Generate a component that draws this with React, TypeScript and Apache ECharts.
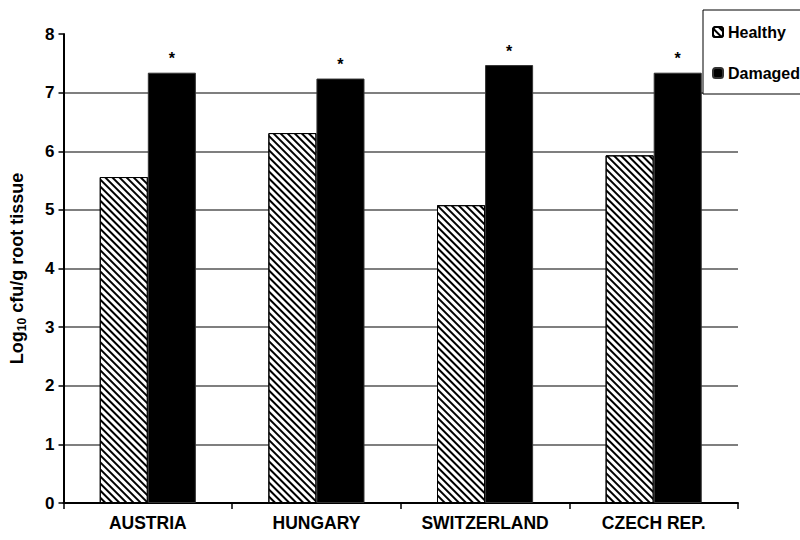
import React, { useEffect, useRef } from "react";
import * as echarts from "echarts";

const categories = ["AUSTRIA", "HUNGARY", "SWITZERLAND", "CZECH REP."];
const healthy = [5.56, 6.31, 5.08, 5.93];
const damaged = [7.34, 7.24, 7.47, 7.34];
const gridValues = [1, 2, 3, 4, 5, 6, 7];
const yTicks = { min: 0, max: 8, interval: 1 };

export default function App() {
  const ref = useRef<HTMLDivElement>(null);
  useEffect(() => {
    const chart = echarts.init(ref.current!, null, { renderer: "svg" });
    const font = "Arial, 'Liberation Sans', sans-serif";
    chart.setOption({
      animation: false,
      textStyle: { fontFamily: font },
      grid: { left: 62, right: 62, top: 34, bottom: 37, containLabel: false },
      legend: {
        orient: "vertical",
        left: 703,
        top: 10,
        padding: [14, 40, 13, 9],
        itemGap: 25,
        itemWidth: 10,
        itemHeight: 10,
        borderColor: "#000",
        borderWidth: 1,
        backgroundColor: "#fff",
        textStyle: { fontSize: 16, fontWeight: "bold", color: "#000" },
        data: ["Healthy", "Damaged"],
      },
      xAxis: {
        type: "category",
        data: categories,
        axisLine: { lineStyle: { color: "#000", width: 2 } },
        axisTick: { show: true, length: 6, lineStyle: { color: "#000", width: 1.5 } },
        axisLabel: { fontSize: 17.5, fontWeight: "bold", color: "#000", margin: 11 },
      },
      yAxis: {
        type: "value",
        min: yTicks.min,
        max: yTicks.max,
        interval: yTicks.interval,
        name: "{a|Log}{s|10}{a| cfu/g root tissue}",
        nameLocation: "middle",
        nameGap: 36,
        nameTextStyle: {
          rich: {
            a: { fontSize: 18, fontWeight: "bold", color: "#000", fontFamily: font },
            s: { fontSize: 12, fontWeight: "bold", color: "#000", fontFamily: font, padding: [9, 0, 0, 0] },
          },
        },
        axisLine: { show: true, lineStyle: { color: "#000", width: 2 } },
        axisTick: { show: true, length: 5, lineStyle: { color: "#000", width: 1.5 } },
        axisLabel: { fontSize: 17, fontWeight: "bold", color: "#000", margin: 9 },
        splitLine: { show: false },
      },
      series: [
        {
          name: "Healthy",
          type: "bar",
          data: healthy,
          barGap: "0%",
          barCategoryGap: "43%",
          itemStyle: {
            color: "#fff",
            borderColor: "#000",
            borderWidth: 1,
            decal: {
              symbol: "rect",
              color: "#000",
              dashArrayX: [1, 0],
              dashArrayY: [2, 2.5],
              rotation: Math.PI / 4,
              symbolSize: 1,
            },
          },
          markLine: {
            silent: true,
            symbol: "none",
            label: { show: false },
            lineStyle: { color: "#555", width: 1.5, type: "solid" },
            data: gridValues.map((v) => ({ yAxis: v })),
            z: 0,
          },
          z: 3,
        },
        {
          name: "Damaged",
          type: "bar",
          data: damaged,
          itemStyle: { color: "#000", borderColor: "#333", borderWidth: 1 },
          label: {
            show: true,
            position: "top",
            formatter: "*",
            fontSize: 16,
            fontWeight: "bold",
            color: "#000",
            distance: 6,
          },
          z: 3,
        },
      ],
    });
    return () => chart.dispose();
  }, []);
  return <div ref={ref} style={{ width: 800, height: 540, position: "absolute", left: 0, top: 0, background: "#fff" }} />;
}
